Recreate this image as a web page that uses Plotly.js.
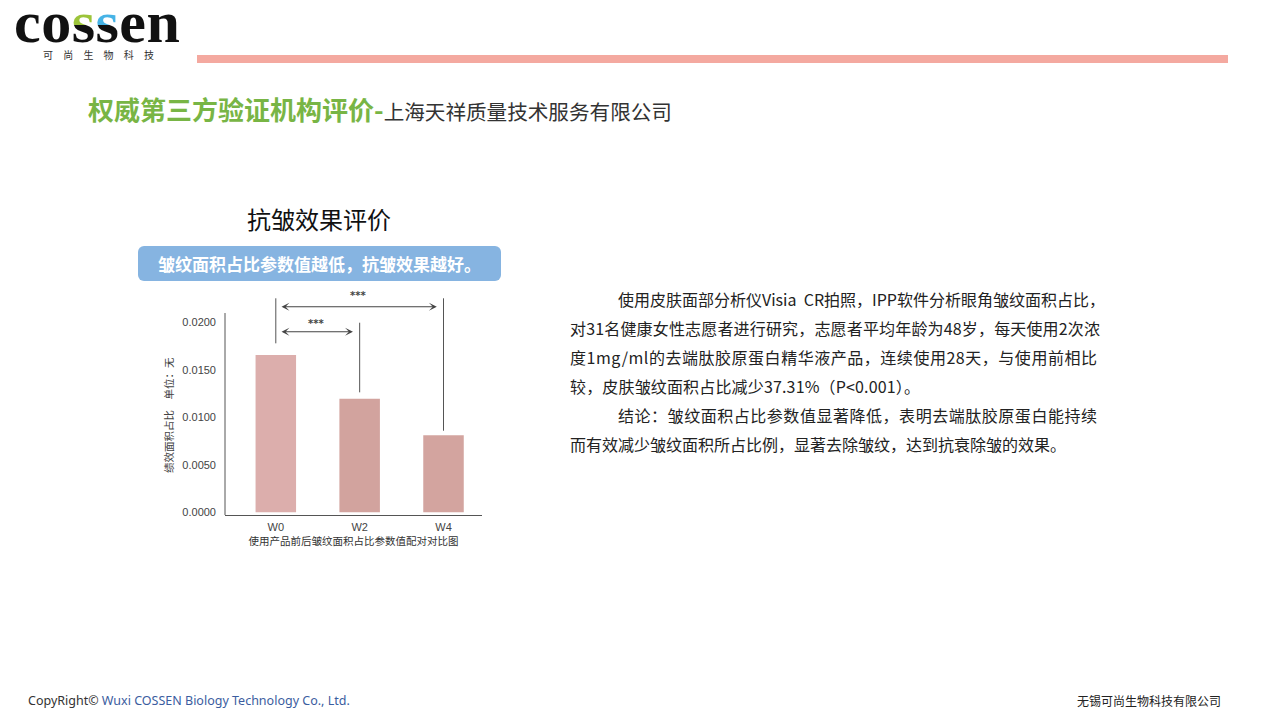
<!DOCTYPE html>
<html>
<head>
<meta charset="utf-8">
<script src="https://cdn.plot.ly/plotly-3.0.1.min.js"></script>
<style>
  html, body { margin:0; padding:0; background:#fff; }
  #page { position:relative; width:1280px; height:720px; overflow:hidden; background:#fff; font-family:"Noto Sans CJK SC", sans-serif; }
  #chart { position:absolute; left:0; top:0; width:1280px; height:720px; }
  .abs { position:absolute; white-space:nowrap; }
  .logo { left:14px; top:2px; font-family:"Liberation Serif", "DejaVu Serif", serif; font-weight:bold; font-size:60px; line-height:40px; letter-spacing:0.5px; color:#111; }
  .logo .g { background:linear-gradient(to bottom, #9cc43a 0, #9cc43a 55%, #111 55%, #111 100%); -webkit-background-clip:text; background-clip:text; color:transparent; }
  .logo .b { background:linear-gradient(to bottom, #46b3e6 0, #46b3e6 55%, #111 55%, #111 100%); -webkit-background-clip:text; background-clip:text; color:transparent; }
  .sub { left:43px; top:49px; font-size:10px; line-height:12px; letter-spacing:10.2px; color:#333; }
  .bar { position:absolute; left:197px; top:55px; width:1031px; height:8px; background:#f4a9a0; }
  .title { left:88px; top:95px; font-size:26px; line-height:28px; }
  .title .gr { color:#78b545; font-weight:bold; }
  .title .dk { color:#333; font-size:20.6px; }
  .ctitle { left:247px; top:206px; font-size:24px; line-height:26px; color:#111; }
  .box { position:absolute; left:138px; top:246px; width:363px; height:35px; background:#86b4e1; border-radius:6px; color:#fff; font-weight:bold; font-size:17px; line-height:35px; text-align:center; }
  .para { position:absolute; left:570px; font-size:16px; line-height:29px; color:#222; }
  .para div { white-space:nowrap; }
  .foot1 { left:28px; top:692px; font-family:"Noto Sans", sans-serif; font-size:12.5px; line-height:18px; color:#333; }
  .foot1 .bl { color:#3b5da0; }
  .foot2 { left:1077px; top:692px; font-size:12px; line-height:18px; color:#222; }
</style>
</head>
<body>
<div id="page">
  <div class="abs logo">co<span class="g">s</span><span class="b">s</span>en</div>
  <div class="abs sub">可尚生物科技</div>
  <div class="bar"></div>
  <div class="abs title"><span class="gr">权威第三方验证机构评价-</span><span class="dk">上海天祥质量技术服务有限公司</span></div>
  <div class="abs ctitle">抗皱效果评价</div>
  <div class="box">皱纹面积占比参数值越低，抗皱效果越好。</div>
  <div class="para" style="top:285px;">
    <div class="j" data-w="487" style="padding-left:48px;">使用皮肤面部分析仪Visia&nbsp; CR拍照，IPP软件分析眼角皱纹面积占比，</div>
    <div class="j" data-w="530">对31名健康女性志愿者进行研究，志愿者平均年龄为48岁，每天使用2次浓</div>
    <div class="j" data-w="527">度1mg/ml的去端肽胶原蛋白精华液产品，连续使用28天，与使用前相比</div>
    <div class="j" data-w="350">较，皮肤皱纹面积占比减少37.31%（P&lt;0.001）。</div>
    <div class="j" data-w="479" style="padding-left:48px;">结论：皱纹面积占比参数值显著降低，表明去端肽胶原蛋白能持续</div>
    <div>而有效减少皱纹面积所占比例，显著去除皱纹，达到抗衰除皱的效果。</div>
  </div>
  <div class="abs foot1">CopyRight© <span class="bl">Wuxi COSSEN Biology Technology Co., Ltd.</span></div>
  <div class="abs foot2">无锡可尚生物科技有限公司</div>
  <div id="chart"></div>
</div>
<script>
// stretch full paragraph lines to their measured widths
document.querySelectorAll('.para .j').forEach(el => {
  const target = parseFloat(el.dataset.w);
  const span = document.createElement('span');
  span.innerHTML = el.innerHTML; el.innerHTML = ''; el.appendChild(span);
  const natural = span.getBoundingClientRect().width;
  const n = span.textContent.length;
  span.style.letterSpacing = ((target - natural) / (n - 1)) + 'px';
});

// ---- data ----
const categories = ["W0", "W2", "W4"];
const values = [0.01656, 0.01196, 0.00811];
const barColors = ["#dcaeac", "#d2a39e", "#d3a49f"];
const yTickVals = [0, 0.005, 0.010, 0.015, 0.020];
const yTitle = "绩效面积占比　单位：无";
const xTitle = "使用产品前后皱纹面积占比参数值配对对比图";
const sigLabel = "***";
// comparison brackets: [from index, to index]
const comparisons = [[0, 2], [0, 1]];

const Y_MIN = -0.000284, Y_MAX = 0.02372, Y_AXIS_TOP = 0.02098;
const lineColor = "#555";
const font = "Liberation Sans, Arial, Noto Sans CJK SC, sans-serif";

const trace = {
  type: "bar",
  x: categories,
  y: values,
  width: 0.483,
  marker: { color: barColors, line: { width: 0 } },
  hoverinfo: "skip"
};

// bracket geometry (data units)
const tops = [0.02253, 0.01996, 0.02253];      // vertical line tops per category
const gaps = [0.00123, 0.00067, 0.00048];      // gap between bar top and line bottom
const shapes = [
  { type: "line", xref: "paper", yref: "y", x0: 0, x1: 0, y0: Y_MIN, y1: Y_AXIS_TOP, line: { color: lineColor, width: 1 } }
];
categories.forEach((c, i) => {
  shapes.push({ type: "line", xref: "x", yref: "y", x0: i, x1: i, y0: values[i] + gaps[i], y1: tops[i], line: { color: lineColor, width: 1 } });
});

const arrowY = [0.02164, 0.01901];
const starY = [0.02280, 0.01990];
const annotations = [];
comparisons.forEach((cmp, k) => {
  const a = cmp[0] + 0.05, b = cmp[1] - 0.08;
  annotations.push({
    xref: "x", yref: "y", axref: "x", ayref: "y",
    x: b, y: arrowY[k], ax: a, ay: arrowY[k],
    text: "", showarrow: true, arrowside: "end+start",
    arrowhead: 3, startarrowhead: 3, arrowsize: 1.2, startarrowsize: 1.2, arrowwidth: 1.1,
    arrowcolor: "#444", standoff: 0, startstandoff: 0
  });
  annotations.push({
    xref: "x", yref: "y", x: (a + b) / 2, y: starY[k], yanchor: "middle",
    text: sigLabel, showarrow: false, font: { size: 10, color: "#444", family: "DejaVu Sans, sans-serif", weight: "bold" }
  });
});
annotations.push({
  xref: "paper", yref: "y", x: -0.222, y: 0.01024, xanchor: "center", yanchor: "middle",
  text: yTitle, textangle: -90, showarrow: false, font: { size: 10.5, color: "#444", family: "Noto Sans CJK SC, sans-serif" }
});

const layout = {
  width: 1280, height: 720,
  margin: { l: 225, r: 798, t: 287, b: 205, pad: 0 },
  paper_bgcolor: "rgba(0,0,0,0)",
  plot_bgcolor: "rgba(0,0,0,0)",
  showlegend: false,
  font: { family: font, color: "#444" },
  xaxis: {
    type: "category",
    range: [-0.606, 2.459],
    showline: true, linecolor: lineColor, linewidth: 1,
    showgrid: false, zeroline: false, ticks: "",
    tickfont: { size: 11, color: "#444" },
    ticklabelstandoff: 2,
    title: { text: xTitle, font: { size: 10.5, color: "#333", family: "Noto Sans CJK SC, sans-serif" }, standoff: 4 },
    fixedrange: true
  },
  yaxis: {
    range: [Y_MIN, Y_MAX],
    showline: false, showgrid: false, zeroline: false, ticks: "",
    tickvals: yTickVals, tickformat: ".4f",
    tickfont: { size: 11, color: "#444" },
    ticklabelstandoff: 8,
    fixedrange: true
  },
  shapes: shapes,
  annotations: annotations
};

Plotly.newPlot("chart", [trace], layout, { displayModeBar: false, staticPlot: true });
</script>
</body>
</html>
